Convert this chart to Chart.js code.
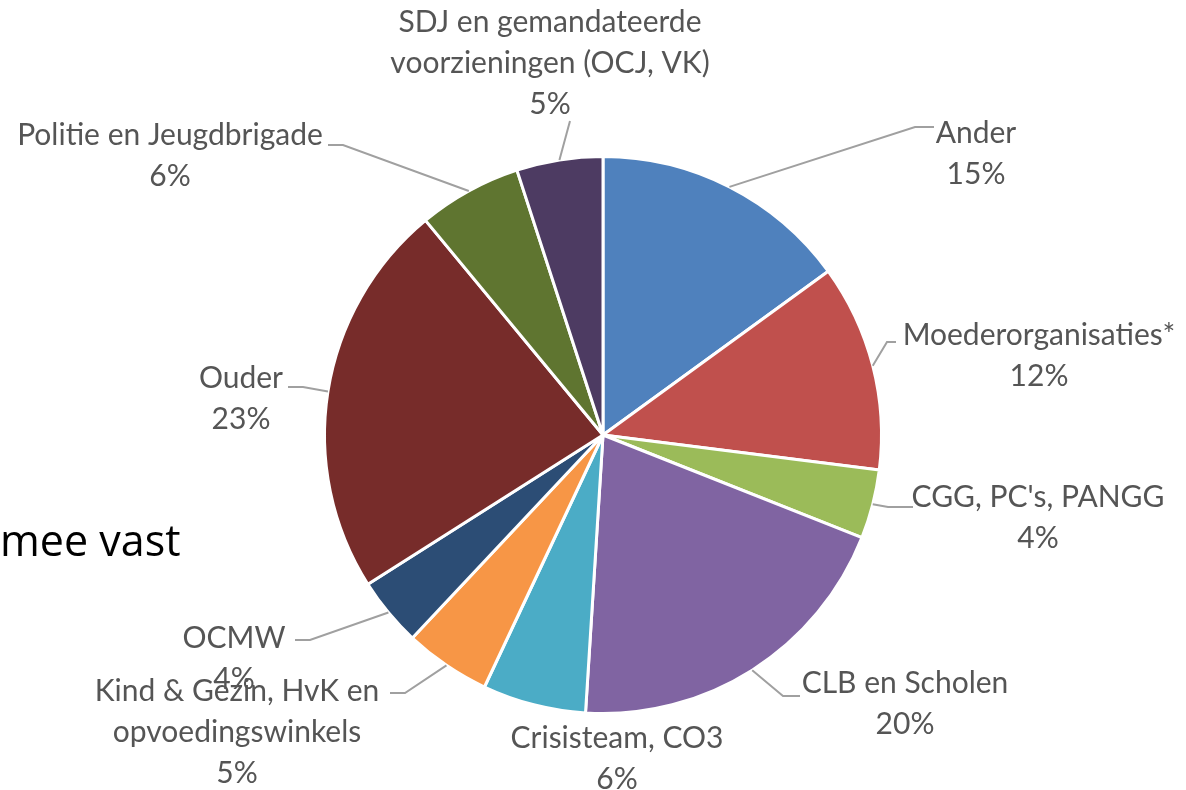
<!DOCTYPE html>
<html>
<head>
<meta charset="utf-8">
<script src="https://cdn.jsdelivr.net/npm/chart.js@4/dist/chart.umd.min.js"></script>
<style>
  html, body { margin: 0; padding: 0; background: #fff; }
  #wrap { position: relative; width: 1186px; height: 790px; overflow: hidden; }
  #taart { position: absolute; left: 0; top: 0; }
  #restTekst { position: absolute; left: 0; top: 518px; font-family: "Open Sans", sans-serif; font-size: 43px; line-height: 44px; color: #000; white-space: nowrap; }
</style>
</head>
<body>
<div id="wrap">
  <canvas id="taart" width="1186" height="790"></canvas>
  <div id="restTekst">mee vast</div>
</div>
<script>
// --- data ---
const categorieen = [
  ['Ander'],
  ['Moederorganisaties*'],
  ["CGG, PC's, PANGG"],
  ['CLB en Scholen'],
  ['Crisisteam, CO3'],
  ['Kind & Gezin, HvK en', 'opvoedingswinkels'],
  ['OCMW'],
  ['Ouder'],
  ['Politie en Jeugdbrigade'],
  ['SDJ en gemandateerde', 'voorzieningen (OCJ, VK)']
];
const aandelen = [15, 12, 4, 20, 6, 5, 4, 23, 6, 5];
const kleuren = ['#4f81bd', '#c0504d', '#9bbb59', '#8064a2', '#4bacc6',
                 '#f79646', '#2c4d75', '#772c2a', '#5f7530', '#4d3b62'];

// --- plaats van de labels (tekstmidden + knikpunten van de verbindingslijn) ---
const labelPlaats = [
  { x: 976, y: 133, lijn: [[915, 127], [934, 127]] },
  { x: 1039, y: 335, lijn: [[887, 342], [896, 342]] },
  { x: 1038, y: 497, lijn: [[888, 507], [913, 507]] },
  { x: 905, y: 683, lijn: [[783, 696], [800, 696]] },
  { x: 617, y: 738, lijn: [] },
  { x: 237, y: 691, lijn: [[405, 693], [390, 693]] },
  { x: 234, y: 638, lijn: [[310, 640], [295, 640]] },
  { x: 241, y: 378, lijn: [[303, 387], [288, 387]] },
  { x: 170, y: 135, lijn: [[343, 145], [328, 145]] },
  { x: 550, y: 22, lijn: [[570, 121]] }
];

// labels met verbindingslijnen tekenen
const labelPlugin = {
  id: 'labelPlugin',
  afterDatasetsDraw(chart) {
    const ctx = chart.ctx;
    const meta = chart.getDatasetMeta(0);
    const waarden = chart.data.datasets[0].data;
    const totaal = waarden.reduce((a, b) => a + b, 0);
    ctx.save();
    meta.data.forEach((boog, i) => {
      const p = boog.getProps(['x', 'y', 'startAngle', 'endAngle', 'outerRadius'], true);
      const midden = (p.startAngle + p.endAngle) / 2;
      const plaats = labelPlaats[i];
      if (plaats.lijn.length) {
        ctx.beginPath();
        ctx.moveTo(p.x + Math.cos(midden) * p.outerRadius, p.y + Math.sin(midden) * p.outerRadius);
        plaats.lijn.forEach(pt => ctx.lineTo(pt[0], pt[1]));
        ctx.strokeStyle = '#a0a0a0';
        ctx.lineWidth = 2;
        ctx.stroke();
      }
      const regels = [].concat(chart.data.labels[i], Math.round(waarden[i] / totaal * 100) + '%');
      ctx.font = '30px Lato';
      ctx.fillStyle = '#555555';
      ctx.textAlign = 'center';
      ctx.textBaseline = 'middle';
      regels.forEach((t, k) => ctx.fillText(t, plaats.x, plaats.y + k * 41));
    });
    ctx.restore();
  }
};

new Chart(document.getElementById('taart'), {
  type: 'pie',
  data: {
    labels: categorieen,
    datasets: [{
      data: aandelen,
      backgroundColor: kleuren,
      borderColor: '#ffffff',
      borderWidth: 3
    }]
  },
  options: {
    responsive: false,
    animation: false,
    layout: { padding: { top: 155, bottom: 75, left: 323, right: 303 } },
    plugins: {
      legend: { display: false },
      tooltip: { enabled: false }
    }
  },
  plugins: [labelPlugin]
});
</script>
</body>
</html>
